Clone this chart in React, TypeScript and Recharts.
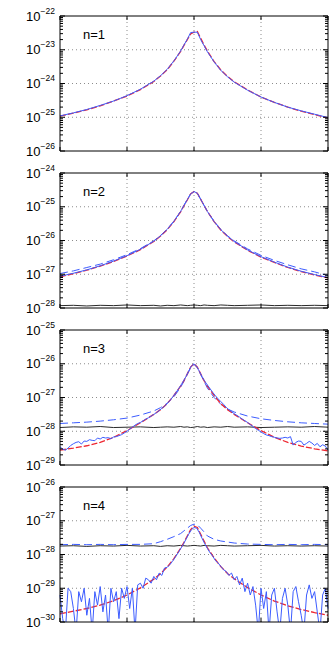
import { LineChart, Line, XAxis, YAxis, ReferenceLine } from 'recharts'

// sample positions (normalised frequency, gridlines every 0.5)
const smoothX = [
  -1, -0.9, -0.8, -0.7, -0.6, -0.5, -0.4, -0.3, -0.25, -0.2, -0.15, -0.1, -0.075, -0.05, -0.025, 0,
  0.025, 0.05, 0.075, 0.1, 0.15, 0.2, 0.25, 0.3, 0.4, 0.5, 0.6, 0.7, 0.8, 0.9, 1,
]
const noisyX = [
  -1, -0.98, -0.96, -0.94, -0.92, -0.9, -0.88, -0.86, -0.84, -0.82, -0.8, -0.78, -0.76, -0.74, -0.72,
  -0.7, -0.68, -0.66, -0.64, -0.62, -0.6, -0.58, -0.56, -0.54, -0.52, -0.5, -0.48, -0.46, -0.44, -0.42,
  -0.4, -0.38, -0.36, -0.34, -0.32, -0.3, -0.28, -0.26, -0.24, -0.22, -0.2, -0.18, -0.16, -0.14, -0.12,
  -0.1, -0.08, -0.06, -0.04, -0.02, 0, 0.02, 0.04, 0.06, 0.08, 0.1, 0.12, 0.14, 0.16, 0.18, 0.2, 0.22,
  0.24, 0.26, 0.28, 0.3, 0.32, 0.34, 0.36, 0.38, 0.4, 0.42, 0.44, 0.46, 0.48, 0.5, 0.52, 0.54, 0.56,
  0.58, 0.6, 0.62, 0.64, 0.66, 0.68, 0.7, 0.72, 0.74, 0.76, 0.78, 0.8, 0.82, 0.84, 0.86, 0.88, 0.9,
  0.92, 0.94, 0.96, 0.98, 1,
]

// all values are log10 of the spectrum
const p1Model = [
  -24.97, -24.88, -24.78, -24.66, -24.52, -24.37, -24.18, -23.94, -23.78, -23.59, -23.34, -23.05, -22.87,
  -22.7, -22.53, -22.48, -22.46, -22.66, -22.86, -23.04, -23.35, -23.6, -23.79, -23.95, -24.19, -24.4,
  -24.56, -24.7, -24.82, -24.92, -25.02,
]
const p1Measured = [
  -24.96, -24.87, -24.77, -24.65, -24.52, -24.36, -24.17, -23.93, -23.77, -23.58, -23.33, -23.04, -22.86,
  -22.69, -22.49, -22.48, -22.48, -22.7, -22.88, -23.06, -23.36, -23.61, -23.8, -23.96, -24.2, -24.4,
  -24.56, -24.7, -24.81, -24.91, -25.01,
]

const p2Model = [
  -27.08, -26.98, -26.88, -26.76, -26.62, -26.46, -26.27, -26.03, -25.87, -25.68, -25.44, -25.15, -24.97,
  -24.8, -24.62, -24.55, -24.6, -24.78, -24.96, -25.14, -25.44, -25.69, -25.88, -26.04, -26.29, -26.49,
  -26.65, -26.8, -26.92, -27.02, -27.11,
]
const p2Measured = [
  -27.06, -26.97, -26.87, -26.75, -26.61, -26.45, -26.26, -26.02, -25.86, -25.67, -25.43, -25.14, -24.96,
  -24.79, -24.62, -24.55, -24.6, -24.78, -24.96, -25.14, -25.44, -25.68, -25.87, -26.03, -26.28, -26.48,
  -26.64, -26.79, -26.91, -27.01, -27.1,
]
const p2Estimate = [
  -26.98, -26.9, -26.8, -26.7, -26.57, -26.42, -26.24, -26.01, -25.85, -25.66, -25.43, -25.14, -24.96,
  -24.79, -24.62, -24.55, -24.6, -24.78, -24.96, -25.14, -25.43, -25.67, -25.86, -26.01, -26.25, -26.44,
  -26.59, -26.72, -26.84, -26.93, -27.04,
]
const p2Floor = [
  -27.93, -27.92, -27.94, -27.92, -27.93, -27.91, -27.93, -27.92, -27.94, -27.92, -27.93, -27.91, -27.92,
  -27.93, -27.92, -27.91, -27.92, -27.93, -27.91, -27.92, -27.93, -27.91, -27.92, -27.93, -27.92, -27.91,
  -27.93, -27.92, -27.93, -27.92, -27.93,
]

const p3Model = [
  -28.56, -28.5, -28.43, -28.33, -28.18, -27.98, -27.75, -27.5, -27.36, -27.18, -26.94, -26.66, -26.5,
  -26.3, -26.1, -26.0, -26.1, -26.3, -26.5, -26.66, -26.94, -27.18, -27.36, -27.5, -27.75, -27.98,
  -28.18, -28.33, -28.44, -28.52, -28.58,
]
const p3Measured = [
  -28.46, -28.53, -28.56, -28.5, -28.42, -28.37, -28.33, -28.31, -28.38, -28.29, -28.3, -28.25, -28.27,
  -28.28, -28.2, -28.23, -28.18, -28.2, -28.19, -28.22, -28.17, -28.16, -28.13, -28.1, -28.05, -28.0,
  -27.94, -27.88, -27.82, -27.77, -27.74, -27.69, -27.64, -27.6, -27.55, -27.5, -27.45, -27.39, -27.32,
  -27.26, -27.18, -27.09, -26.99, -26.88, -26.77, -26.65, -26.52, -26.38, -26.22, -26.07, -26.0, -26.08,
  -26.23, -26.38, -26.52, -26.63, -26.74, -26.85, -26.95, -27.04, -27.12, -27.2, -27.29, -27.36, -27.42,
  -27.48, -27.53, -27.58, -27.64, -27.69, -27.74, -27.8, -27.86, -27.92, -27.97, -28.02, -28.07, -28.11,
  -28.13, -28.16, -28.18, -28.2, -28.21, -28.2, -28.18, -28.2, -28.16, -28.41, -28.33, -28.29, -28.3,
  -28.41, -28.36, -28.3, -28.35, -28.42, -28.36, -28.46, -28.4, -28.44, -28.56,
]
const p3Estimate = [
  -27.77, -27.75, -27.73, -27.7, -27.66, -27.61, -27.52, -27.4, -27.3, -27.17, -26.98, -26.7, -26.52,
  -26.32, -26.12, -26.02, -26.12, -26.32, -26.52, -26.72, -27.0, -27.2, -27.34, -27.43, -27.55, -27.63,
  -27.68, -27.72, -27.75, -27.77, -27.79,
]
const p3Floor = [
  -27.89, -27.87, -27.88, -27.86, -27.89, -27.88, -27.87, -27.89, -27.88, -27.87, -27.88, -27.86, -27.88,
  -27.87, -27.89, -27.88, -27.86, -27.88, -27.87, -27.89, -27.87, -27.88, -27.86, -27.88, -27.87, -27.89,
  -27.88, -27.87, -27.88, -27.86, -27.88,
]

const p4Model = [
  -29.76, -29.68, -29.6, -29.5, -29.37, -29.2, -28.99, -28.73, -28.57, -28.37, -28.12, -27.82, -27.64,
  -27.45, -27.26, -27.16, -27.2, -27.4, -27.6, -27.8, -28.1, -28.36, -28.56, -28.72, -28.98, -29.2,
  -29.38, -29.52, -29.63, -29.72, -29.8,
]
const p4Measured = [
  -29.2, -29.9, -30.3, -29.0, -29.1, -29.6, -30.3, -29.1, -29.4, -29.0, -29.8, -29.3, -30.3, -29.1, -29.5,
  -28.95, -29.7, -29.2, -30.3, -29.0, -29.4, -29.1, -29.9, -29.0, -29.3, -28.95, -29.6, -29.0, -30.3,
  -28.9, -28.85, -29.0, -28.7, -28.75, -28.85, -28.65, -28.75, -28.55, -28.62, -28.4, -28.38, -28.3,
  -28.2, -28.08, -27.96, -27.83, -27.7, -27.55, -27.4, -27.27, -27.2, -27.22, -27.35, -27.52, -27.68,
  -27.82, -27.95, -28.05, -28.18, -28.25, -28.35, -28.45, -28.5, -28.62, -28.55, -28.75, -28.65, -28.9,
  -28.7, -29.1, -28.85, -29.2, -28.95, -29.5, -30.3, -29.0, -29.6, -29.1, -30.3, -29.2, -29.0, -29.7,
  -30.3, -29.3, -29.0, -29.5, -30.3, -29.1, -28.95, -29.4, -29.8, -30.3, -29.2, -28.9, -29.3, -29.1,
  -29.7, -30.3, -29.2, -29.0, -29.6,
]
const p4Estimate = [
  -27.71, -27.7, -27.71, -27.7, -27.71, -27.7, -27.7, -27.68, -27.62, -27.55, -27.47, -27.38, -27.3,
  -27.22, -27.14, -27.1, -27.12, -27.22, -27.33, -27.45, -27.55, -27.6, -27.63, -27.66, -27.69, -27.7,
  -27.71, -27.7, -27.71, -27.7, -27.71,
]
const p4Floor = [
  -27.75, -27.74, -27.76, -27.74, -27.75, -27.73, -27.75, -27.74, -27.76, -27.74, -27.75, -27.73, -27.74,
  -27.75, -27.74, -27.73, -27.74, -27.75, -27.73, -27.74, -27.75, -27.73, -27.74, -27.75, -27.74, -27.73,
  -27.75, -27.74, -27.75, -27.74, -27.75,
]

const panelLabels = ['n=1', 'n=2', 'n=3', 'n=4']
const panelTopExp = [-22, -24, -25, -26]
const xTicks = [-1, -0.5, 0, 0.5, 1]

const W = 334
const PLOT_LEFT = 60
const PLOT_RIGHT = 328
const PLOT_TOP = 16
const PLOT_H = 135
const BLUE = '#3c5cff'
const RED = '#ee2630'
const BLACK = '#2a2a2a'
const GRID = '#8c8c8c'
const FONT = '"Liberation Sans", Arial, Helvetica, sans-serif'

const pow = (e: number) => Math.pow(10, e)

function LogTick(props: any) {
  const { y, payload } = props
  const e = Math.log10(payload.value)
  const major = Math.abs(e - Math.round(e)) < 1e-6
  const len = major ? 5 : 3
  return (
    <g>
      <line x1={PLOT_LEFT} x2={PLOT_LEFT + len} y1={y} y2={y} stroke="#000" />
      <line x1={PLOT_RIGHT} x2={PLOT_RIGHT - len} y1={y} y2={y} stroke="#000" />
      {major && (
        <text x={55} y={y + 4.5} textAnchor="end" fontSize={13} fontFamily={FONT} fill="#000">
          10
          <tspan dy={-7} fontSize={8.5}>
            {'\u2212' + String(-Math.round(e))}
          </tspan>
        </text>
      )}
    </g>
  )
}

function XTick(props: any) {
  const { x } = props
  const bottom = PLOT_TOP + PLOT_H
  return (
    <g>
      <line x1={x} x2={x} y1={bottom} y2={bottom - 4} stroke="#000" />
      <line x1={x} x2={x} y1={PLOT_TOP} y2={PLOT_TOP + 4} stroke="#000" />
    </g>
  )
}

type PanelProps = {
  label: string
  topExp: number
  model: number[]
  measured: number[]
  measuredX: number[]
  estimate?: number[]
  floor?: number[]
  top: number
  height: number
}

function Panel({ label, topExp, model, measured, measuredX, estimate, floor, top, height }: PanelProps) {
  const decades = [0, 1, 2, 3, 4].map((d) => topExp - d)
  const ticks: number[] = []
  decades.forEach((e) => ticks.push(pow(e)))
  decades.slice(1).forEach((e) => {
    for (let m = 2; m <= 9; m++) ticks.push(m * pow(e))
  })
  ticks.sort((a, b) => a - b)

  const rows = smoothX.map((x, i) => ({
    x,
    model: pow(model[i]),
    estimate: estimate ? pow(estimate[i]) : undefined,
    floor: floor ? pow(floor[i]) : undefined,
  }))
  const measuredRows = measuredX.map((x, i) => ({ x, measured: pow(measured[i]) }))
  const lo = pow(topExp - 4)
  const hi = pow(topExp)

  return (
    <div style={{ position: 'absolute', left: 0, top, width: W, height }}>
      <LineChart width={W} height={height} data={rows} margin={{ top: PLOT_TOP, right: 6, bottom: 0, left: 0 }}>
        <XAxis
          dataKey="x"
          type="number"
          domain={[-1, 1]}
          ticks={xTicks}
          interval={0}
          height={height - PLOT_TOP - PLOT_H}
          axisLine={false}
          tickLine={false}
          tick={(p: any) => <XTick {...p} />}
        />
        <YAxis
          type="number"
          scale="log"
          domain={[lo, hi]}
          allowDataOverflow
          ticks={ticks}
          interval={0}
          width={PLOT_LEFT}
          axisLine={false}
          tickLine={false}
          tick={(p: any) => <LogTick {...p} />}
        />
        {decades.slice(1, 4).map((e) => (
          <ReferenceLine key={'g' + e} y={pow(e)} stroke={GRID} strokeDasharray="1 3" />
        ))}
        {[-0.5, 0, 0.5].map((x) => (
          <ReferenceLine key={'v' + x} x={x} stroke={GRID} strokeDasharray="1 3" />
        ))}
        {floor && (
          <Line dataKey="floor" stroke={BLACK} strokeWidth={1} dot={false} isAnimationActive={false} />
        )}
        {estimate && (
          <Line
            dataKey="estimate"
            stroke={BLUE}
            strokeWidth={1}
            strokeDasharray="8 4"
            dot={false}
            isAnimationActive={false}
          />
        )}
        <Line
          dataKey="model"
          stroke={RED}
          strokeWidth={1.3}
          strokeDasharray="6 2"
          dot={false}
          isAnimationActive={false}
        />
        <Line
          data={measuredRows}
          dataKey="measured"
          stroke={BLUE}
          strokeWidth={1}
          dot={false}
          isAnimationActive={false}
        />
        <ReferenceLine y={hi} stroke="#000" />
        <ReferenceLine y={lo} stroke="#000" />
        <ReferenceLine x={-1} stroke="#000" />
        <ReferenceLine x={1} stroke="#000" />
      </LineChart>
      <div
        style={{
          position: 'absolute',
          left: 83,
          top: 27,
          fontFamily: FONT,
          fontSize: 13,
          lineHeight: '15px',
          color: '#000',
        }}
      >
        {label}
      </div>
    </div>
  )
}

export default function App() {
  return (
    <div style={{ position: 'absolute', left: 0, top: 0, width: W, height: 649, background: '#fff' }}>
      <Panel label={panelLabels[0]} topExp={panelTopExp[0]} model={p1Model} measured={p1Measured} measuredX={smoothX} top={0} height={157} />
      <Panel
        label={panelLabels[1]}
        topExp={panelTopExp[1]}
        model={p2Model}
        measured={p2Measured}
        measuredX={smoothX}
        estimate={p2Estimate}
        floor={p2Floor}
        top={157}
        height={157}
      />
      <Panel
        label={panelLabels[2]}
        topExp={panelTopExp[2]}
        model={p3Model}
        measured={p3Measured}
        measuredX={noisyX}
        estimate={p3Estimate}
        floor={p3Floor}
        top={314}
        height={157}
      />
      <Panel
        label={panelLabels[3]}
        topExp={panelTopExp[3]}
        model={p4Model}
        measured={p4Measured}
        measuredX={noisyX}
        estimate={p4Estimate}
        floor={p4Floor}
        top={471}
        height={178}
      />
    </div>
  )
}
